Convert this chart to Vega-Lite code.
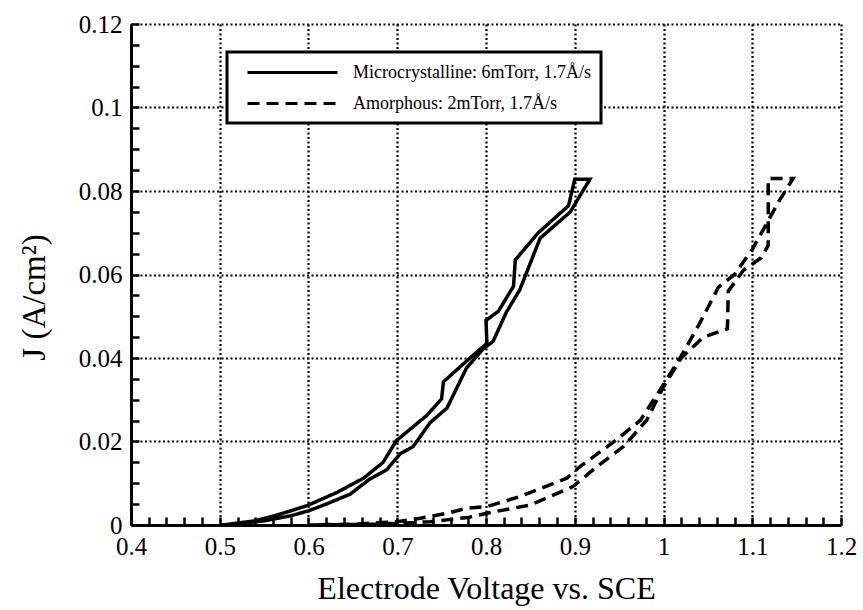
{
  "$schema": "https://vega.github.io/schema/vega-lite/v6.json",
  "width": 710,
  "height": 501,
  "autosize": {"type": "none"},
  "padding": {"left": 131, "top": 24, "right": 22, "bottom": 85},
  "background": "white",
  "config": {
    "view": {"stroke": null},
    "font": "Liberation Serif",
    "axis": {"titleFont": "Liberation Serif", "labelFont": "Liberation Serif", "titleFontWeight": "normal"},
    "legend": {"labelFont": "Liberation Serif"}
  },
  "data": {
    "values": [
      {"series": "Microcrystalline: 6mTorr, 1.7Å/s", "order": 1, "x": 0.500, "y": 0.0000},
      {"series": "Microcrystalline: 6mTorr, 1.7Å/s", "order": 2, "x": 0.520, "y": 0.0003},
      {"series": "Microcrystalline: 6mTorr, 1.7Å/s", "order": 3, "x": 0.550, "y": 0.0010},
      {"series": "Microcrystalline: 6mTorr, 1.7Å/s", "order": 4, "x": 0.580, "y": 0.0022},
      {"series": "Microcrystalline: 6mTorr, 1.7Å/s", "order": 5, "x": 0.600, "y": 0.0034},
      {"series": "Microcrystalline: 6mTorr, 1.7Å/s", "order": 6, "x": 0.620, "y": 0.0050},
      {"series": "Microcrystalline: 6mTorr, 1.7Å/s", "order": 7, "x": 0.647, "y": 0.0074},
      {"series": "Microcrystalline: 6mTorr, 1.7Å/s", "order": 8, "x": 0.669, "y": 0.0110},
      {"series": "Microcrystalline: 6mTorr, 1.7Å/s", "order": 9, "x": 0.688, "y": 0.0132},
      {"series": "Microcrystalline: 6mTorr, 1.7Å/s", "order": 10, "x": 0.703, "y": 0.0170},
      {"series": "Microcrystalline: 6mTorr, 1.7Å/s", "order": 11, "x": 0.718, "y": 0.0188},
      {"series": "Microcrystalline: 6mTorr, 1.7Å/s", "order": 12, "x": 0.737, "y": 0.0245},
      {"series": "Microcrystalline: 6mTorr, 1.7Å/s", "order": 13, "x": 0.756, "y": 0.0280},
      {"series": "Microcrystalline: 6mTorr, 1.7Å/s", "order": 14, "x": 0.778, "y": 0.0376},
      {"series": "Microcrystalline: 6mTorr, 1.7Å/s", "order": 15, "x": 0.797, "y": 0.0422},
      {"series": "Microcrystalline: 6mTorr, 1.7Å/s", "order": 16, "x": 0.808, "y": 0.0440},
      {"series": "Microcrystalline: 6mTorr, 1.7Å/s", "order": 17, "x": 0.823, "y": 0.0510},
      {"series": "Microcrystalline: 6mTorr, 1.7Å/s", "order": 18, "x": 0.838, "y": 0.0563},
      {"series": "Microcrystalline: 6mTorr, 1.7Å/s", "order": 19, "x": 0.861, "y": 0.0687},
      {"series": "Microcrystalline: 6mTorr, 1.7Å/s", "order": 20, "x": 0.895, "y": 0.0750},
      {"series": "Microcrystalline: 6mTorr, 1.7Å/s", "order": 21, "x": 0.917, "y": 0.0828},
      {"series": "Microcrystalline: 6mTorr, 1.7Å/s", "order": 22, "x": 0.900, "y": 0.0828},
      {"series": "Microcrystalline: 6mTorr, 1.7Å/s", "order": 23, "x": 0.893, "y": 0.0765},
      {"series": "Microcrystalline: 6mTorr, 1.7Å/s", "order": 24, "x": 0.859, "y": 0.0700},
      {"series": "Microcrystalline: 6mTorr, 1.7Å/s", "order": 25, "x": 0.833, "y": 0.0635},
      {"series": "Microcrystalline: 6mTorr, 1.7Å/s", "order": 26, "x": 0.831, "y": 0.0572},
      {"series": "Microcrystalline: 6mTorr, 1.7Å/s", "order": 27, "x": 0.814, "y": 0.0512},
      {"series": "Microcrystalline: 6mTorr, 1.7Å/s", "order": 28, "x": 0.800, "y": 0.0490},
      {"series": "Microcrystalline: 6mTorr, 1.7Å/s", "order": 29, "x": 0.801, "y": 0.0435},
      {"series": "Microcrystalline: 6mTorr, 1.7Å/s", "order": 30, "x": 0.782, "y": 0.0400},
      {"series": "Microcrystalline: 6mTorr, 1.7Å/s", "order": 31, "x": 0.752, "y": 0.0343},
      {"series": "Microcrystalline: 6mTorr, 1.7Å/s", "order": 32, "x": 0.750, "y": 0.0302},
      {"series": "Microcrystalline: 6mTorr, 1.7Å/s", "order": 33, "x": 0.733, "y": 0.0262},
      {"series": "Microcrystalline: 6mTorr, 1.7Å/s", "order": 34, "x": 0.699, "y": 0.0202},
      {"series": "Microcrystalline: 6mTorr, 1.7Å/s", "order": 35, "x": 0.684, "y": 0.0150},
      {"series": "Microcrystalline: 6mTorr, 1.7Å/s", "order": 36, "x": 0.662, "y": 0.0112},
      {"series": "Microcrystalline: 6mTorr, 1.7Å/s", "order": 37, "x": 0.632, "y": 0.0078},
      {"series": "Microcrystalline: 6mTorr, 1.7Å/s", "order": 38, "x": 0.598, "y": 0.0046},
      {"series": "Microcrystalline: 6mTorr, 1.7Å/s", "order": 39, "x": 0.568, "y": 0.0026},
      {"series": "Microcrystalline: 6mTorr, 1.7Å/s", "order": 40, "x": 0.540, "y": 0.0010},
      {"series": "Microcrystalline: 6mTorr, 1.7Å/s", "order": 41, "x": 0.510, "y": 0.0002},
      {"series": "Amorphous: 2mTorr, 1.7Å/s", "order": 1, "x": 0.600, "y": 0.0000},
      {"series": "Amorphous: 2mTorr, 1.7Å/s", "order": 2, "x": 0.650, "y": 0.0001},
      {"series": "Amorphous: 2mTorr, 1.7Å/s", "order": 3, "x": 0.700, "y": 0.0004},
      {"series": "Amorphous: 2mTorr, 1.7Å/s", "order": 4, "x": 0.737, "y": 0.0008},
      {"series": "Amorphous: 2mTorr, 1.7Å/s", "order": 5, "x": 0.780, "y": 0.0018},
      {"series": "Amorphous: 2mTorr, 1.7Å/s", "order": 6, "x": 0.805, "y": 0.0030},
      {"series": "Amorphous: 2mTorr, 1.7Å/s", "order": 7, "x": 0.850, "y": 0.0048},
      {"series": "Amorphous: 2mTorr, 1.7Å/s", "order": 8, "x": 0.898, "y": 0.0092},
      {"series": "Amorphous: 2mTorr, 1.7Å/s", "order": 9, "x": 0.925, "y": 0.0140},
      {"series": "Amorphous: 2mTorr, 1.7Å/s", "order": 10, "x": 0.955, "y": 0.0188},
      {"series": "Amorphous: 2mTorr, 1.7Å/s", "order": 11, "x": 0.981, "y": 0.0251},
      {"series": "Amorphous: 2mTorr, 1.7Å/s", "order": 12, "x": 1.000, "y": 0.0331},
      {"series": "Amorphous: 2mTorr, 1.7Å/s", "order": 13, "x": 1.020, "y": 0.0400},
      {"series": "Amorphous: 2mTorr, 1.7Å/s", "order": 14, "x": 1.045, "y": 0.0450},
      {"series": "Amorphous: 2mTorr, 1.7Å/s", "order": 15, "x": 1.072, "y": 0.0470},
      {"series": "Amorphous: 2mTorr, 1.7Å/s", "order": 16, "x": 1.073, "y": 0.0560},
      {"series": "Amorphous: 2mTorr, 1.7Å/s", "order": 17, "x": 1.090, "y": 0.0610},
      {"series": "Amorphous: 2mTorr, 1.7Å/s", "order": 18, "x": 1.110, "y": 0.0640},
      {"series": "Amorphous: 2mTorr, 1.7Å/s", "order": 19, "x": 1.118, "y": 0.0670},
      {"series": "Amorphous: 2mTorr, 1.7Å/s", "order": 20, "x": 1.118, "y": 0.0830},
      {"series": "Amorphous: 2mTorr, 1.7Å/s", "order": 21, "x": 1.146, "y": 0.0830},
      {"series": "Amorphous: 2mTorr, 1.7Å/s", "order": 22, "x": 1.130, "y": 0.0775},
      {"series": "Amorphous: 2mTorr, 1.7Å/s", "order": 23, "x": 1.100, "y": 0.0660},
      {"series": "Amorphous: 2mTorr, 1.7Å/s", "order": 24, "x": 1.080, "y": 0.0600},
      {"series": "Amorphous: 2mTorr, 1.7Å/s", "order": 25, "x": 1.062, "y": 0.0570},
      {"series": "Amorphous: 2mTorr, 1.7Å/s", "order": 26, "x": 1.040, "y": 0.0480},
      {"series": "Amorphous: 2mTorr, 1.7Å/s", "order": 27, "x": 1.020, "y": 0.0405},
      {"series": "Amorphous: 2mTorr, 1.7Å/s", "order": 28, "x": 0.996, "y": 0.0323},
      {"series": "Amorphous: 2mTorr, 1.7Å/s", "order": 29, "x": 0.974, "y": 0.0251},
      {"series": "Amorphous: 2mTorr, 1.7Å/s", "order": 30, "x": 0.947, "y": 0.0204},
      {"series": "Amorphous: 2mTorr, 1.7Å/s", "order": 31, "x": 0.906, "y": 0.0140},
      {"series": "Amorphous: 2mTorr, 1.7Å/s", "order": 32, "x": 0.891, "y": 0.0112},
      {"series": "Amorphous: 2mTorr, 1.7Å/s", "order": 33, "x": 0.838, "y": 0.0068},
      {"series": "Amorphous: 2mTorr, 1.7Å/s", "order": 34, "x": 0.801, "y": 0.0044},
      {"series": "Amorphous: 2mTorr, 1.7Å/s", "order": 35, "x": 0.778, "y": 0.0040},
      {"series": "Amorphous: 2mTorr, 1.7Å/s", "order": 36, "x": 0.756, "y": 0.0028},
      {"series": "Amorphous: 2mTorr, 1.7Å/s", "order": 37, "x": 0.726, "y": 0.0016},
      {"series": "Amorphous: 2mTorr, 1.7Å/s", "order": 38, "x": 0.700, "y": 0.0008},
      {"series": "Amorphous: 2mTorr, 1.7Å/s", "order": 39, "x": 0.650, "y": 0.0002},
      {"series": "Amorphous: 2mTorr, 1.7Å/s", "order": 40, "x": 0.600, "y": 0.0000}
    ]
  },
  "layer": [
    {
      "mark": {"type": "line", "color": "black", "strokeWidth": 3.5, "strokeJoin": "miter", "clip": true},
      "encoding": {
        "x": {
          "field": "x", "type": "quantitative",
          "scale": {"domain": [0.4, 1.2], "nice": false, "zero": false},
          "axis": {
            "orient": "bottom",
            "title": "Electrode Voltage vs. SCE",
            "values": [0.4,0.5,0.6,0.7,0.8,0.9,1,1.1,1.2],
            "labelExpr": "format(datum.value,'~g')",
            "labelOverlap": false, "labelFlush": false, "labelBound": false,
            "labelFont": "Liberation Serif", "labelFontSize": 25, "labelColor": "black", "labelPadding": 9,
            "titleFont": "Liberation Serif", "titleFontSize": 32, "titleFontWeight": "normal", "titleColor": "black", "titlePadding": 14,
            "domainColor": "black", "domainWidth": 3,
            "ticks": false,
            "grid": true, "gridColor": "black", "gridDash": [2, 2.5], "gridWidth": 2.2
          }
        },
        "y": {
          "field": "y", "type": "quantitative",
          "scale": {"domain": [0, 0.12], "nice": false},
          "axis": {
            "orient": "left",
            "title": "J (A/cm²)",
            "values": [0,0.02,0.04,0.06,0.08,0.1,0.12],
            "labelExpr": "format(datum.value,'~g')",
            "labelOverlap": false, "labelFlush": false, "labelBound": false,
            "labelFont": "Liberation Serif", "labelFontSize": 25, "labelColor": "black", "labelPadding": 9,
            "titleFont": "Liberation Serif", "titleFontSize": 33, "titleFontWeight": "normal", "titleColor": "black", "titlePadding": 27, "titleY": 273,
            "domainColor": "black", "domainWidth": 3,
            "ticks": false,
            "grid": true, "gridColor": "black", "gridDash": [2, 2.5], "gridWidth": 2.2
          }
        },
        "strokeDash": {
          "field": "series", "type": "nominal",
          "scale": {"domain": ["Microcrystalline: 6mTorr, 1.7Å/s", "Amorphous: 2mTorr, 1.7Å/s"], "range": [[1, 0], [12, 7]]},
          "legend": {
            "title": null,
            "orient": "none", "legendX": 96, "legendY": 28,
            "fillColor": "white", "strokeColor": "black",
            "padding": 10, "rowPadding": 11,
            "symbolType": "M0,0H10", "symbolSize": 324, "symbolStrokeWidth": 3, "symbolStrokeColor": "black",
            "labelFont": "Liberation Serif", "labelFontSize": 18, "labelColor": "black", "labelOffset": 95, "labelLimit": 0,
            "encode": {"legend": {"update": {"strokeWidth": {"value": 3}}}}
          }
        },
        "order": {"field": "order", "type": "quantitative"}
      }
    },
    {
      "mark": {"type": "line", "strokeWidth": 0},
      "encoding": {
        "x": {
          "field": "x", "type": "quantitative",
          "axis": {
            "orient": "bottom", "offset": -8, "zindex": 2,
            "values": [0.4,0.42,0.44,0.46,0.48,0.5,0.52,0.54,0.56,0.58,0.6,0.62,0.64,0.66,0.68,0.7,0.72,0.74,0.76,0.78,0.8,0.82,0.84,0.86,0.88,0.9,0.92,0.94,0.96,0.98,1,1.02,1.04,1.06,1.08,1.1,1.12,1.14,1.16,1.18,1.2],
            "title": null, "labels": false, "domain": false, "grid": false,
            "ticks": true, "tickSize": 8, "tickWidth": 2.5, "tickColor": "black", "tickOpacity": 1
          }
        },
        "y": {
          "field": "y", "type": "quantitative",
          "axis": {
            "orient": "left", "offset": -8, "zindex": 2,
            "values": [0,0.005,0.01,0.015,0.02,0.025,0.03,0.035,0.04,0.045,0.05,0.055,0.06,0.065,0.07,0.075,0.08,0.085,0.09,0.095,0.1,0.105,0.11,0.115,0.12],
            "title": null, "labels": false, "domain": false, "grid": false,
            "ticks": true, "tickSize": 8, "tickWidth": 2.5, "tickColor": "black", "tickOpacity": 1
          }
        },
        "detail": {"field": "series", "type": "nominal"},
        "order": {"field": "order", "type": "quantitative"}
      }
    }
  ],
  "resolve": {"axis": {"x": "independent", "y": "independent"}}
}
